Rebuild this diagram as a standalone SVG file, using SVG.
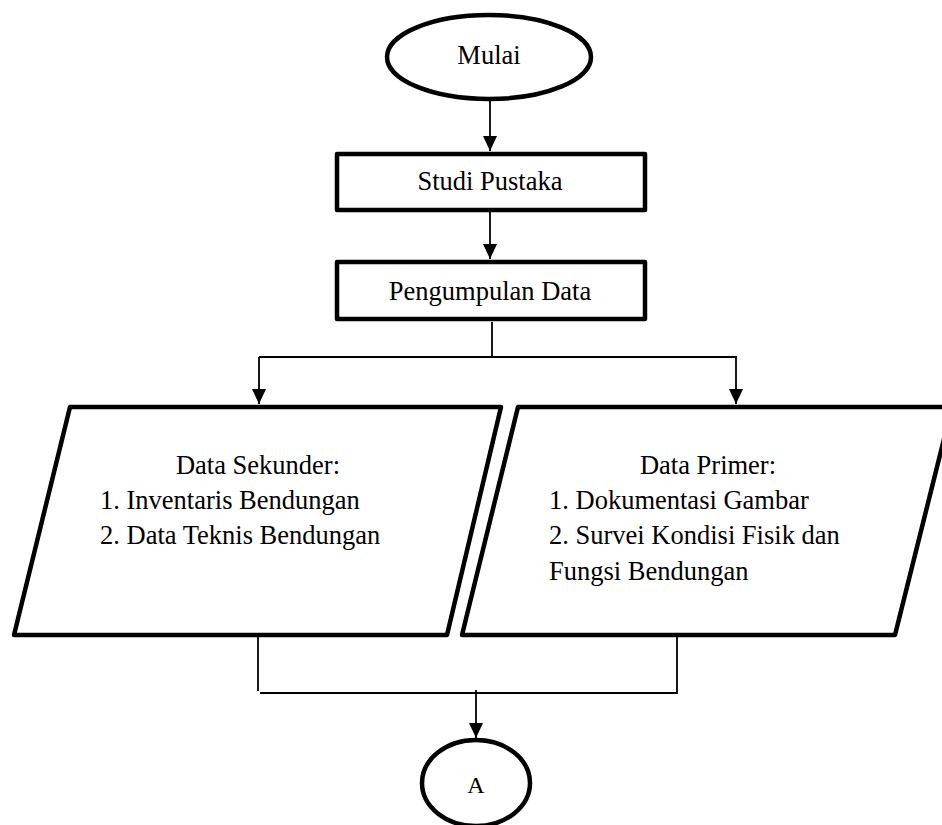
<svg xmlns="http://www.w3.org/2000/svg" width="942" height="825" viewBox="0 0 942 825">
<style>
.shape{fill:#fff;stroke:#000;stroke-width:4.5;stroke-linejoin:round}
.conn{fill:none;stroke:#000;stroke-width:1.8}
text{font-family:'Liberation Serif','Times New Roman',Times,'DejaVu Serif',serif;font-size:26.5px;fill:#000}
.c{text-anchor:middle}
</style>
<defs>
<marker id="arr" markerWidth="16" markerHeight="14" refX="15" refY="7" orient="auto" markerUnits="userSpaceOnUse">
<path d="M0,0 L15,7 L0,14 Z" fill="#000"/>
</marker>
</defs>
<g id="connectors">
<line class="conn" x1="490" y1="100" x2="490" y2="151" marker-end="url(#arr)"/>
<line class="conn" x1="490" y1="212" x2="490" y2="259" marker-end="url(#arr)"/>
<line class="conn" x1="492" y1="322" x2="492" y2="357"/>
<line class="conn" x1="259" y1="357" x2="737" y2="357"/>
<line class="conn" x1="259" y1="357" x2="259" y2="404" marker-end="url(#arr)"/>
<line class="conn" x1="736" y1="357" x2="736" y2="404" marker-end="url(#arr)"/>
<line class="conn" x1="258" y1="637" x2="258" y2="691"/>
<line class="conn" x1="677" y1="637" x2="677" y2="694"/>
<line class="conn" x1="260" y1="693" x2="677" y2="693"/>
<line class="conn" x1="476" y1="690" x2="476" y2="738" marker-end="url(#arr)"/>
</g>
<g id="mulai">
<ellipse class="shape" cx="489" cy="57" rx="102" ry="42"/>
<text class="c" x="489" y="64" font-family="Liberation Serif, serif">Mulai</text>
</g>
<g id="studi-pustaka">
<rect class="shape" x="337" y="154" width="308" height="56"/>
<text class="c" x="490" y="190">Studi Pustaka</text>
</g>
<g id="pengumpulan-data">
<rect class="shape" x="337" y="262" width="308" height="57"/>
<text class="c" x="490" y="300">Pengumpulan Data</text>
</g>
<g id="data-sekunder">
<polygon class="shape" points="70,407 501,407 447,635 14,635"/>
<text class="c" x="258" y="474">Data Sekunder:</text>
<text x="100" y="509">1. Inventaris Bendungan</text>
<text x="100" y="544">2. Data Teknis Bendungan</text>
</g>
<g id="data-primer">
<polygon class="shape" points="518,407 952,407 895,635 462,635"/>
<text class="c" x="708" y="474">Data Primer:</text>
<text x="549" y="509">1. Dokumentasi Gambar</text>
<text x="549" y="544">2. Survei Kondisi Fisik dan</text>
<text x="549" y="580">Fungsi Bendungan</text>
</g>
<g id="a">
<ellipse class="shape" cx="476" cy="783" rx="54" ry="43"/>
<text class="c" x="476" y="793" style="font-size:24px">A</text>
</g>
</svg>
